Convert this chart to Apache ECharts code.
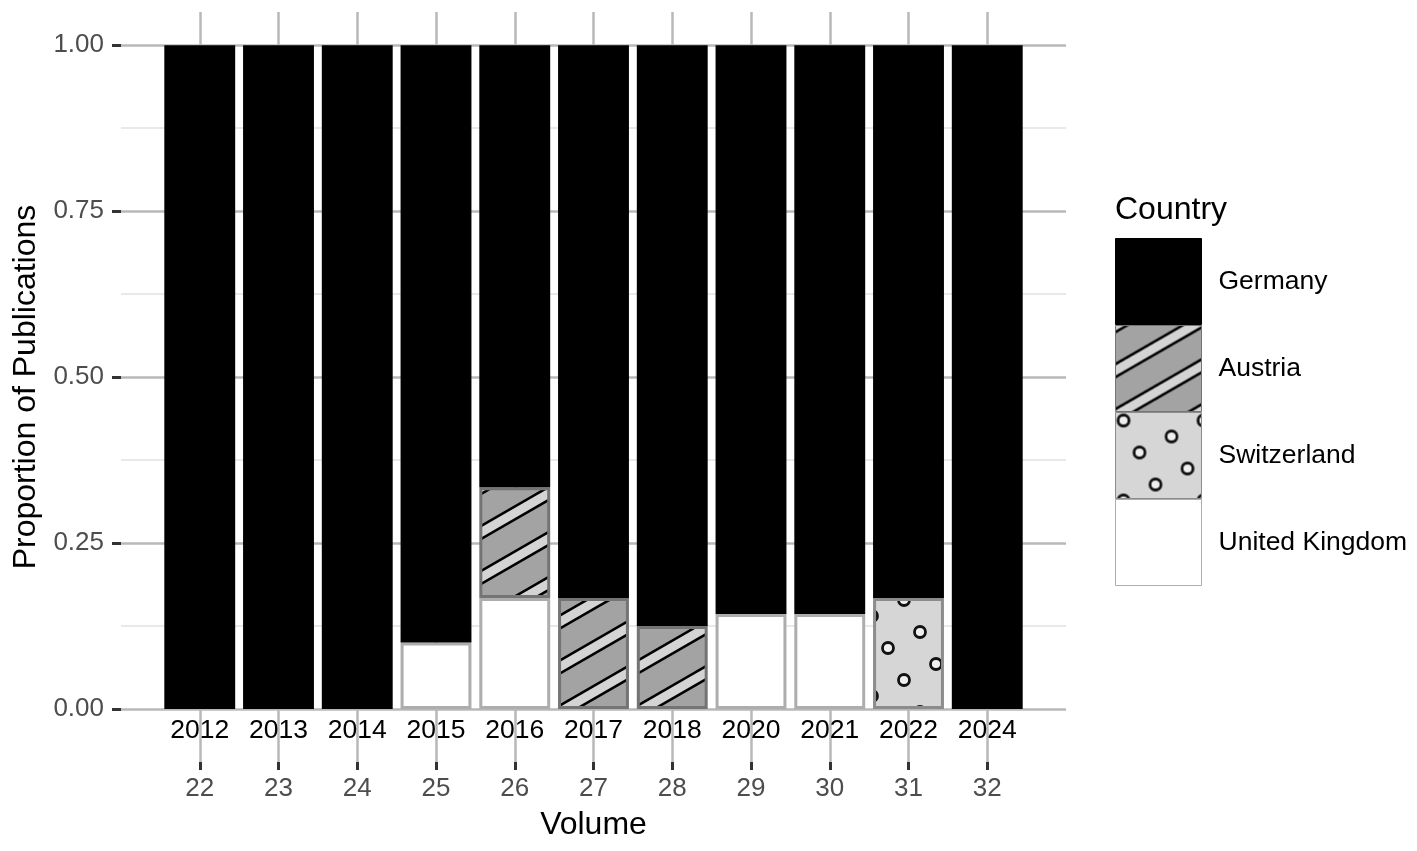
<!DOCTYPE html>
<html>
<head>
<meta charset="utf-8">
<title>Proportion of Publications by Country</title>
<script src="https://cdn.jsdelivr.net/npm/echarts@6/dist/echarts.min.js"></script>
<style>
  html, body { margin: 0; padding: 0; background: #fff; }
  #chart { width: 1417px; height: 851px; }
</style>
</head>
<body>
<div id="chart"></div>
<script>
// volumes and publication years
const years = ['2012', '2013', '2014', '2015', '2016', '2017', '2018', '2020', '2021', '2022', '2024']
const volumes = ['22', '23', '24', '25', '26', '27', '28', '29', '30', '31', '32']

// share of publications per volume
const germany = [1, 1, 1, 0.9, 0.666, 0.833, 0.875, 0.857, 0.857, 0.833, 1]
const austria = [0, 0, 0, 0, 0.167, 0.167, 0.125, 0, 0, 0, 0]
const switzerland = [0, 0, 0, 0, 0, 0, 0, 0, 0, 0.167, 0]
const unitedKingdom = [0, 0, 0, 0.1, 0.167, 0, 0, 0.143, 0.143, 0, 0]

const yTicks = [0, 0.25, 0.5, 0.75, 1]
const yMinorTicks = [0.125, 0.375, 0.625, 0.875]

const FONT = 'Liberation Sans, Arial, sans-serif'

// one empty slot on each side of the volumes, like the panel padding in the original
const pad = list => [''].concat(list, [''])
const inner = idx => idx > 0 && idx < volumes.length + 1

function toBars(vals) {
  return ['-'].concat(vals.map(v => (v > 0 ? v : '-')), ['-'])
}

// grey with light outlined stripes (Austria)
function stripePattern() {
  const w = 78, h = 45, half = 6.5
  const c = document.createElement('canvas')
  c.width = w
  c.height = h
  const ctx = c.getContext('2d')
  ctx.fillStyle = '#a3a3a3'
  ctx.fillRect(0, 0, w, h)
  const slope = h / w
  for (let k = 0; k <= 2; k++) {
    const cc = k * h
    const yAt = (x, off) => cc + off - x * slope
    ctx.beginPath()
    ctx.moveTo(-4, yAt(-4, -half))
    ctx.lineTo(w + 4, yAt(w + 4, -half))
    ctx.lineTo(w + 4, yAt(w + 4, half))
    ctx.lineTo(-4, yAt(-4, half))
    ctx.closePath()
    ctx.fillStyle = '#d4d4d4'
    ctx.fill()
    ctx.strokeStyle = '#000'
    ctx.lineWidth = 2.5
    ;[-half, half].forEach(off => {
      ctx.beginPath()
      ctx.moveTo(-4, yAt(-4, off))
      ctx.lineTo(w + 4, yAt(w + 4, off))
      ctx.stroke()
    })
  }
  return c
}

// light grey with small circles (Switzerland)
function dotPattern() {
  const s = 80
  const c = document.createElement('canvas')
  c.width = s
  c.height = s
  const ctx = c.getContext('2d')
  ctx.fillStyle = '#d6d6d6'
  ctx.fillRect(0, 0, s, s)
  ctx.lineWidth = 2.8
  ctx.strokeStyle = '#111'
  ctx.fillStyle = '#efefef'
  for (let k = 0; k < 5; k++) {
    const px = (16 * k) % s, py = (32 * k) % s
    for (const dx of [-s, 0, s]) {
      for (const dy of [-s, 0, s]) {
        ctx.beginPath()
        ctx.arc(px + dx + 8, py + dy + 8, 5.5, 0, Math.PI * 2)
        ctx.fill()
        ctx.stroke()
      }
    }
  }
  return c
}

const chart = echarts.init(document.getElementById('chart'))

const option = {
  animation: false,
  textStyle: { fontFamily: FONT },
  title: {
    text: 'Country',
    left: 1110,
    top: 189,
    textStyle: { fontSize: 32, fontWeight: 'normal', color: '#000', fontFamily: FONT }
  },
  legend: {
    orient: 'vertical',
    left: 1115,
    top: 238,
    padding: 0,
    itemWidth: 86,
    itemHeight: 86,
    itemGap: 0,
    icon: 'rect',
    selectedMode: false,
    data: ['Germany', 'Austria', 'Switzerland', 'United Kingdom'],
    itemStyle: { borderWidth: 1 },
    textStyle: { fontSize: 26.5, color: '#000', fontFamily: FONT, padding: [0, 0, 0, 12] }
  },
  grid: { left: 121, top: 12, width: 945, height: 750, outerBoundsMode: 'none' },
  xAxis: [
    {
      type: 'category',
      boundaryGap: false,
      data: pad(volumes),
      position: 'bottom',
      name: 'Volume',
      nameLocation: 'middle',
      nameGap: 47,
      nameTextStyle: { fontSize: 32, color: '#000', fontFamily: FONT },
      axisLine: { show: false, onZero: false },
      axisTick: { show: true, interval: inner, length: 8, lineStyle: { color: '#333', width: 3 } },
      axisLabel: { interval: 0, fontSize: 26, color: '#4d4d4d', margin: 14 },
      splitLine: { show: true, interval: inner, lineStyle: { color: '#b8b8b8', width: 2.5 } }
    },
    {
      // publication years, written inside the panel under the bars
      type: 'category',
      boundaryGap: false,
      data: pad(years),
      position: 'bottom',
      axisLine: { show: false, onZero: false },
      axisTick: { show: false },
      axisLabel: { inside: true, interval: 0, fontSize: 26.5, color: '#000', margin: 18 },
      splitLine: { show: false }
    }
  ],
  yAxis: [
    {
      type: 'value',
      min: -0.08,
      max: 1.05,
      position: 'left',
      name: 'Proportion of Publications',
      nameLocation: 'middle',
      nameGap: 77,
      nameTextStyle: { fontSize: 32, color: '#000', fontFamily: FONT },
      axisLine: { show: false, onZero: false },
      axisTick: { show: true, customValues: yTicks, length: 9, lineStyle: { color: '#333', width: 3 } },
      axisLabel: {
        customValues: yTicks,
        formatter: v => v.toFixed(2),
        fontSize: 26,
        color: '#4d4d4d',
        margin: 17
      },
      splitLine: { show: true, lineStyle: { color: '#b8b8b8', width: 2.5 } }
    },
    {
      // minor grid only
      type: 'value',
      min: -0.08,
      max: 1.05,
      position: 'left',
      axisLine: { show: false, onZero: false },
      axisTick: { show: false, customValues: yMinorTicks },
      axisLabel: { show: false, customValues: yMinorTicks },
      splitLine: { show: true, lineStyle: { color: '#e2e2e2', width: 1.5 } }
    }
  ],
  series: [
    {
      name: 'United Kingdom',
      type: 'bar',
      stack: 'share',
      barWidth: '90%',
      data: toBars(unitedKingdom),
      itemStyle: { color: '#ffffff', borderColor: '#adadad', borderWidth: 3 }
    },
    {
      name: 'Switzerland',
      type: 'bar',
      stack: 'share',
      barWidth: '90%',
      data: toBars(switzerland),
      itemStyle: { color: { image: dotPattern(), repeat: 'repeat' }, borderColor: '#8c8c8c', borderWidth: 3 }
    },
    {
      name: 'Austria',
      type: 'bar',
      stack: 'share',
      barWidth: '90%',
      data: toBars(austria),
      itemStyle: { color: { image: stripePattern(), repeat: 'repeat' }, borderColor: '#747474', borderWidth: 3 }
    },
    {
      name: 'Germany',
      type: 'bar',
      stack: 'share',
      barWidth: '90%',
      data: toBars(germany),
      itemStyle: { color: '#000000', borderColor: '#000000', borderWidth: 3 }
    }
  ]
}

chart.setOption(option)
</script>
</body>
</html>
